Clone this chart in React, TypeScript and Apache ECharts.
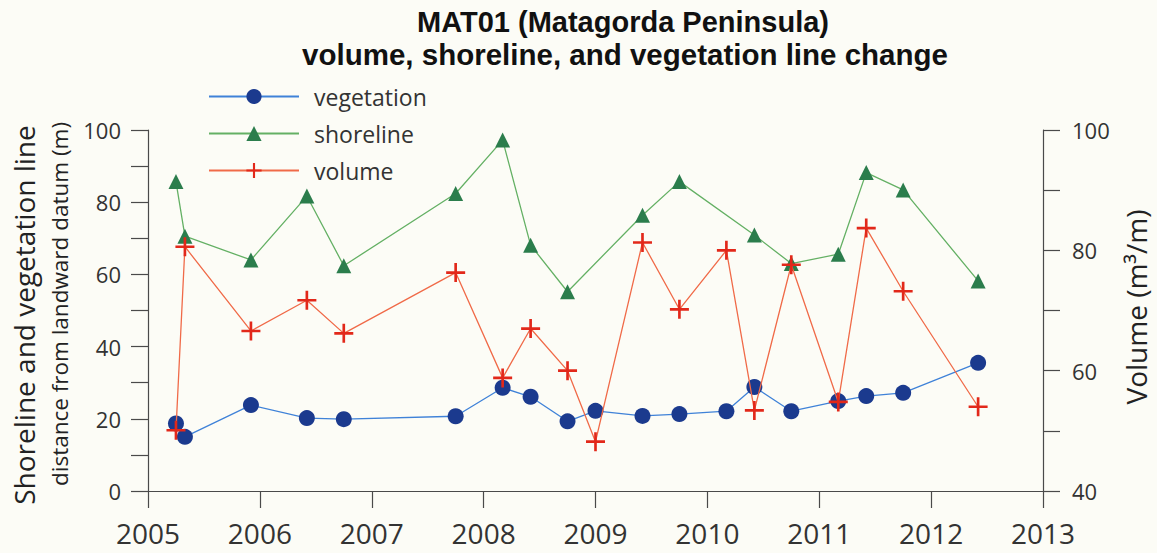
import React, { useEffect, useRef } from "react";
import * as echarts from "echarts";

const dates = [2005.25, 2005.33, 2005.92, 2006.42, 2006.75, 2007.75, 2008.17, 2008.42, 2008.75, 2009.0, 2009.42, 2009.75, 2010.17, 2010.42, 2010.75, 2011.17, 2011.42, 2011.75, 2012.42];
const vegetation = [18.7, 15.0, 23.8, 20.2, 19.9, 20.7, 28.6, 26.1, 19.3, 22.2, 20.8, 21.3, 22.1, 28.8, 22.1, 24.9, 26.3, 27.2, 35.5];
const shoreline = [85.7, 70.6, 64.0, 81.7, 62.4, 82.4, 97.2, 68.1, 55.2, null, 76.4, 85.7, null, 70.9, 63.0, 65.6, 88.2, 83.4, 58.2];
const volume = [50.1, 80.6, 66.6, 71.7, 66.2, 76.3, 58.8, 67.0, 60.0, 48.2, 81.3, 70.2, 80.0, 53.4, 77.6, 54.8, 83.7, 73.2, 54.0];
const seriesNames = ["vegetation", "shoreline", "volume"];
const titleLines = ["MAT01 (Matagorda Peninsula)", "volume, shoreline, and vegetation line change"];
const leftNameLines = ["Shoreline and vegetation line", "distance from landward datum (m)"];
const rightName = "Volume (m\u00B3/m)";

const CROSS = "path://M8.6,0H11.4V8.6H20V11.4H11.4V20H8.6V11.4H0V8.6H8.6Z";
const FONT = "'Open Sans', 'Liberation Sans', sans-serif";
const AXIS_COLOR = "#4a4a4a";
const LABEL_COLOR = "#333";

function pairs(vals: (number | null)[]) {
  return dates.map((d, i) => [d, vals[i]]);
}

export default function App() {
  const ref = useRef<HTMLDivElement>(null);
  useEffect(() => {
    if (!ref.current) return;
    const chart = echarts.init(ref.current, null, { renderer: "svg" });
    const axisCommon = {
      axisLine: { show: true, onZero: false, lineStyle: { color: AXIS_COLOR, width: 1.2 } },
      axisTick: { show: true, inside: false, length: 17, lineStyle: { color: AXIS_COLOR, width: 1.2 } },
      splitLine: { show: false },
    };
    chart.setOption({
      animation: false,
      backgroundColor: "#fcfcf6",
      grid: { left: 148, right: 114, top: 130, bottom: 62, containLabel: false },
      legend: {
        orient: "vertical",
        left: 203,
        top: 80,
        itemWidth: 90,
        itemHeight: 19,
        itemGap: 14,
        data: seriesNames,
        textStyle: { fontFamily: FONT, fontSize: 23, color: LABEL_COLOR, lineHeight: 23, padding: [0, 0, 0, 10] },
      },
      xAxis: {
        type: "value",
        min: 2005,
        max: 2013,
        interval: 1,
        ...axisCommon,
        axisLabel: {
          margin: 28,
          fontFamily: FONT,
          fontSize: 28,
          color: LABEL_COLOR,
          formatter: (v: number) => String(v),
        },
      },
      yAxis: [
        {
          type: "value",
          position: "left",
          min: 0,
          max: 100,
          interval: 20,
          ...axisCommon,
          minorTick: { show: true, splitNumber: 2, length: 17, lineStyle: { color: AXIS_COLOR, width: 1.2 } },
          axisLabel: { margin: 27, fontFamily: FONT, fontSize: 22, color: LABEL_COLOR },
        },
        {
          type: "value",
          position: "right",
          min: 40,
          max: 100,
          interval: 20,
          ...axisCommon,
          minorTick: { show: true, splitNumber: 2, length: 17, lineStyle: { color: AXIS_COLOR, width: 1.2 } },
          axisLabel: { margin: 29, fontFamily: FONT, fontSize: 22, color: LABEL_COLOR },
        },
      ],
      series: [
        {
          name: seriesNames[0],
          type: "line",
          data: pairs(vegetation),
          symbol: "circle",
          symbolSize: 16,
          lineStyle: { color: "#3f82d8", width: 1.3 },
          itemStyle: { color: "#1b3a8e" },
          z: 2,
        },
        {
          name: seriesNames[1],
          type: "line",
          data: pairs(shoreline),
          connectNulls: true,
          symbol: "triangle",
          symbolSize: 15,
          lineStyle: { color: "#64b064", width: 1.3 },
          itemStyle: { color: "#2b7d4c" },
          z: 3,
        },
        {
          name: seriesNames[2],
          type: "line",
          yAxisIndex: 1,
          data: pairs(volume),
          symbol: CROSS,
          symbolSize: 19,
          symbolKeepAspect: true,
          lineStyle: { color: "#f06a48", width: 1.3 },
          itemStyle: { color: "#e2281a" },
          z: 4,
        },
      ],
      graphic: [
        {
          type: "text",
          x: 623,
          y: 22,
          style: { text: titleLines[0], fontFamily: "'Liberation Sans', Arial, sans-serif", fontWeight: "bold", fontSize: 29, fill: "#111", textAlign: "center", textVerticalAlign: "middle" },
        },
        {
          type: "text",
          x: 625,
          y: 54,
          style: { text: titleLines[1], fontFamily: "'Liberation Sans', Arial, sans-serif", fontWeight: "bold", fontSize: 29.5, fill: "#111", textAlign: "center", textVerticalAlign: "middle" },
        },
        {
          type: "text",
          x: 24,
          y: 315,
          rotation: Math.PI / 2,
          style: { text: leftNameLines[0], fontFamily: FONT, fontSize: 28, fill: "#222", textAlign: "center", textVerticalAlign: "middle" },
        },
        {
          type: "text",
          x: 59,
          y: 304,
          rotation: Math.PI / 2,
          style: { text: leftNameLines[1], fontFamily: FONT, fontSize: 22.5, fill: "#222", textAlign: "center", textVerticalAlign: "middle" },
        },
        {
          type: "text",
          x: 1136,
          y: 307,
          rotation: Math.PI / 2,
          style: { text: rightName, fontFamily: FONT, fontSize: 28, fill: "#222", textAlign: "center", textVerticalAlign: "middle" },
        },
      ],
    });
    return () => chart.dispose();
  }, []);
  return (
    <div
      ref={ref}
      style={{ position: "fixed", left: 0, top: 0, width: 1157, height: 553, background: "#fcfcf6" }}
    />
  );
}
